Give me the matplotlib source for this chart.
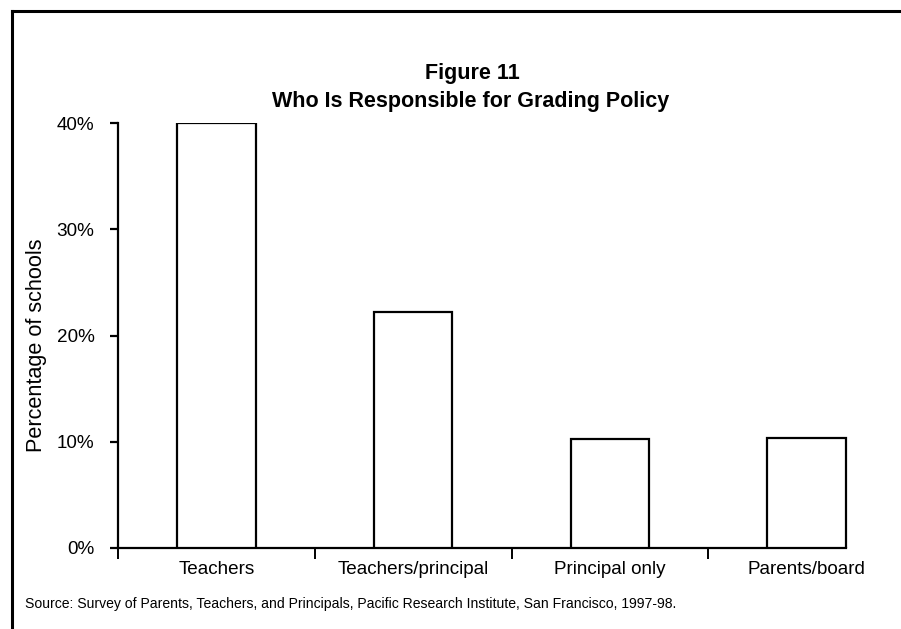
import matplotlib
matplotlib.use("Agg")
import matplotlib.pyplot as plt
from matplotlib.lines import Line2D

categories = ["Teachers", "Teachers/principal", "Principal only", "Parents/board"]
values = [40.0, 22.2, 10.3, 10.4]
yticks = [0, 10, 20, 30, 40]
ytick_labels = ["0%", "10%", "20%", "30%", "40%"]

plt.rcParams['font.family'] = ['Liberation Sans', 'DejaVu Sans']

W, H = 901, 629
fig = plt.figure(figsize=(W / 100, H / 100), dpi=100)

x0, x1 = 118, 905
y0, y1 = 548, 123
ax = fig.add_axes([x0 / W, 1 - y0 / H, (x1 - x0) / W, (y0 - y1) / H])

xs = list(range(len(categories)))
bw = 0.40
ax.bar(xs, values, width=bw, color="white", edgecolor="black", linewidth=1.6, zorder=3)

ax.set_xlim(-0.5, len(categories) - 0.5)
ax.set_ylim(0, 40)

for s in ["top", "right"]:
    ax.spines[s].set_visible(False)
ax.spines["left"].set_linewidth(1.6)
ax.spines["bottom"].set_linewidth(1.6)
ax.spines["left"].set_bounds(0, 40)
ax.spines["bottom"].set_bounds(-0.5, xs[-1] + bw / 2)

ax.set_yticks(yticks)
ax.set_yticklabels(ytick_labels, fontsize=13.6)
ax.tick_params(axis="y", direction="out", length=6, width=1.6, pad=11)

ax.set_xticks([i - 0.5 for i in xs])
ax.set_xticklabels([])
ax.tick_params(axis="x", which="major", direction="out", length=8, width=1.4)
ax.set_xticks(xs, minor=True)
ax.set_xticklabels(categories, minor=True, fontsize=13.6)
ax.tick_params(axis="x", which="minor", length=0, pad=9.5)

fig.text(37 / W, 1 - 345 / H, "Percentage of schools", rotation=90,
         ha="center", va="center", fontsize=15.6)

fig.text(472 / W, 1 - 74 / H, "Figure 11", ha="center", va="center",
         fontsize=15.5, fontweight="bold")
fig.text(471 / W, 1 - 101 / H, "Who Is Responsible for Grading Policy",
         ha="center", va="center", fontsize=15.5, fontweight="bold")

fig.text(25 / W, 1 - 604 / H,
         "Source: Survey of Parents, Teachers, and Principals, Pacific Research Institute, San Francisco, 1997-98.",
         ha="left", va="center", fontsize=10.1)

# figure border (left and top)
fig.add_artist(Line2D([12 / W, 12 / W], [0, 1 - 11 / H], transform=fig.transFigure,
                      color="black", linewidth=2.2))
fig.add_artist(Line2D([12 / W, 1], [1 - 11 / H, 1 - 11 / H], transform=fig.transFigure,
                      color="black", linewidth=2.2))

fig.savefig("out.png", dpi=100)
